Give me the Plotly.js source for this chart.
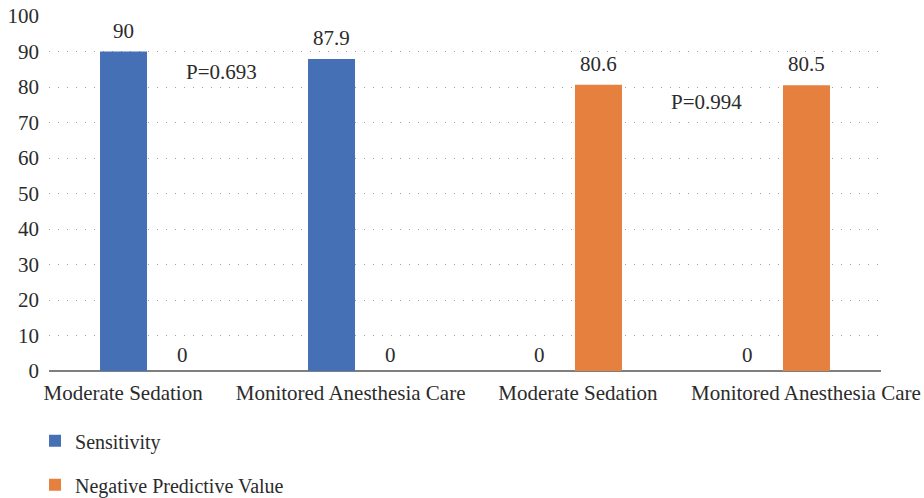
<!DOCTYPE html>
<html><head><meta charset="utf-8">
<script src="https://cdn.plot.ly/plotly-3.0.1.min.js"></script>
<style>html,body{margin:0;padding:0;background:#fff}</style>
</head><body><div id="chart" style="width:924px;height:498px"></div>
<script>
const categories = ["Moderate Sedation", "Monitored Anesthesia Care", "Moderate Sedation ", "Monitored Anesthesia Care "];
const categoryLabels = ["Moderate Sedation", "Monitored Anesthesia Care", "Moderate Sedation", "Monitored Anesthesia Care"];
const sensitivity = [90, 87.9, 0, 0];
const npv = [0, 0, 80.6, 80.5];
const seriesNames = ["Sensitivity", "Negative Predictive Value"];
const pLabels = ["P=0.693", "P=0.994"];
const pPos = [[0.327, 84.2], [2.663, 75.9]];
const labelPos = [-0.144, 0.95, 2.043, 3.139];
const yTicks = [0,10,20,30,40,50,60,70,80,90,100];

const FONT = "'Liberation Serif', 'Times New Roman', serif";
const TXT = "#2b2b2b";
const FS = 21;
const idx = categories.map((_, i) => i);
const OFF = 0.142; // half group offset in category units

const traces = [
  {type:"bar", name:seriesNames[0], x:idx, y:sensitivity, marker:{color:"#4670b6"}, legendgroup:"a", hoverinfo:"skip"},
  {type:"bar", name:seriesNames[1], x:idx, y:npv, marker:{color:"#e6803e"}, legendgroup:"b", hoverinfo:"skip"}
];

const valueAnn = [];
[sensitivity, npv].forEach((arr, s) => arr.forEach((v, i) => {
  valueAnn.push({x: i + (s === 0 ? -OFF : OFF), y: v, xref:"x", yref:"y", text: String(v),
    showarrow:false, yanchor:"bottom", yshift: v === 0 ? 2 : 7,
    font:{family:FONT,size:FS,color:TXT}});
}));

const layout = {
  width:924, height:498,
  margin:{l:49, r:43, t:16, b:127, pad:0, autoexpand:false},
  paper_bgcolor:"#fff", plot_bgcolor:"#fff",
  font:{family:FONT, size:FS, color:TXT},
  barmode:"group", bargap:0.433, bargroupgap:0.203,
  xaxis:{type:"linear", range:[-0.5,3.5], tickmode:"array", tickvals:labelPos, ticktext:categoryLabels,
    showgrid:false, zeroline:false, showline:false, ticks:"", ticklen:0, ticklabelstandoff:7,
    tickfont:{family:FONT,size:FS,color:TXT}, fixedrange:true, automargin:false},
  yaxis:{range:[0,100], tickmode:"array", tickvals:yTicks, ticktext:yTicks.map(String),
    showgrid:true, gridcolor:"#a0a0a0", gridwidth:1, griddash:"1px,8px",
    zeroline:true, zerolinecolor:"#7f7f7f", zerolinewidth:2,
    showline:false, ticks:"", ticklabelstandoff:9, automargin:false,
    tickfont:{family:FONT,size:FS,color:TXT}, fixedrange:true},
  showlegend:true,
  legend:{orientation:"v", x:0.0379, xref:"container", xanchor:"left", y:0.154, yref:"container", yanchor:"top",
    font:{family:FONT,size:20,color:TXT}, traceorder:"grouped", tracegroupgap:15,
    itemwidth:30, bgcolor:"rgba(0,0,0,0)"},
  annotations: valueAnn.concat(pLabels.map((t,i)=>({x:pPos[i][0], y:pPos[i][1], xref:"x", yref:"y", text:t,
    showarrow:false, font:{family:FONT,size:FS,color:TXT}})))
};

Plotly.newPlot("chart", traces, layout, {displayModeBar:false, staticPlot:true});
</script></body></html>
